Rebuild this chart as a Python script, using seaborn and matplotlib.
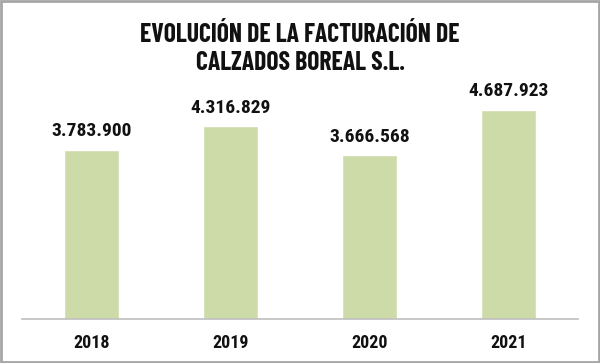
import matplotlib
matplotlib.use("Agg")
import matplotlib.pyplot as plt
import seaborn as sns
import pandas as pd
from matplotlib import font_manager
from matplotlib.patches import Rectangle

years = ["2018", "2019", "2020", "2021"]
revenue = [3783900, 4316829, 3666568, 4687923]
value_labels = ["3.783.900", "4.316.829", "3.666.568", "4.687.923"]
title = "EVOLUCIÓN DE LA FACTURACIÓN DE\nCALZADOS BOREAL S.L."

sns.set_theme(style="white")
names = {f.name for f in font_manager.fontManager.ttflist}


def pick(cands):
    for c in cands:
        if c in names:
            return c
    return "DejaVu Sans"


title_fam = pick(["Barlow Condensed", "Roboto Condensed"])
num_fam = pick(["Roboto Condensed", "Barlow Condensed"])
plt.rcParams["font.family"] = [num_fam, "DejaVu Sans"]
plt.rcParams["font.stretch"] = "condensed"

df = pd.DataFrame({"year": years, "revenue": revenue})

fig = plt.figure(figsize=(6, 3.63), dpi=100)
ax = fig.add_axes([22 / 600, 44 / 363, 556 / 600, (319 - 70) / 363])
sns.barplot(data=df, x="year", y="revenue", color="#cddba8", width=0.4,
            saturation=1, ax=ax)
ax.set_ylim(0, (319 - 70) / 44.6e-6)
ax.set_xlim(-0.5, 3.5)
for i, (v, lab) in enumerate(zip(revenue, value_labels)):
    ax.annotate(lab, (i, v), xytext=(0, 10), textcoords="offset points",
                ha="center", va="baseline", fontsize=14, fontweight="bold",
                color="#111111", family=[num_fam, "DejaVu Sans"])
ax.set_xlabel("")
ax.set_ylabel("")
ax.set_yticks([])
ax.tick_params(axis="x", length=0, pad=11, labelsize=13)
for t in ax.get_xticklabels():
    t.set_fontweight("bold")
    t.set_color("#111111")
    t.set_family([num_fam, "DejaVu Sans"])
for s in ["top", "right", "left"]:
    ax.spines[s].set_visible(False)
ax.spines["bottom"].set_color("#bfbfbf")
ax.spines["bottom"].set_linewidth(1.2)

fig.text(0.5, 1 - 49 / 363, title, ha="center", va="center", fontsize=18.5,
         fontweight="bold", color="#111111", linespacing=1.2,
         family=[title_fam, "DejaVu Sans"])
fig.patches.append(Rectangle((0.002, 0.003), 0.996, 0.994, transform=fig.transFigure,
                             fill=False, edgecolor="#a6a6a6", linewidth=2))
fig.savefig("out.png", dpi=100)
